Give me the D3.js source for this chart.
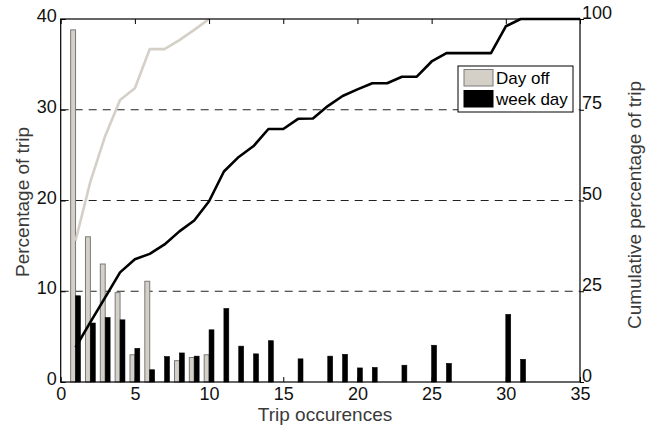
<!DOCTYPE html>
<html>
<head>
<meta charset="utf-8">
<script src="https://cdn.jsdelivr.net/npm/d3@7"></script>
<style>
  html, body { margin: 0; padding: 0; background: #fff; }
  svg { display: block; font-family: "Liberation Sans", Arial, Helvetica, sans-serif; }
</style>
</head>
<body>
<svg id="chart" width="665" height="430"></svg>
<script>
// ---- data ----
const dayOffX = [1, 2, 3, 4, 5, 6, 8, 9, 10];
const dayOffPct = [38.8, 16.0, 13.0, 9.85, 3.0, 11.1, 2.35, 2.7, 3.0];
const weekDayX = [1, 2, 3, 4, 5, 6, 7, 8, 9, 10, 11, 12, 13, 14, 16, 18, 19, 20, 21, 23, 25, 26, 30, 31];
const weekDayPct = [9.5, 6.5, 7.1, 6.85, 3.7, 1.35, 2.8, 3.2, 2.85, 5.75, 8.1, 3.95, 3.1, 4.55, 2.55, 2.85, 3.05, 1.55, 1.6, 1.85, 4.05, 2.05, 7.45, 2.5];
const dayOffCumX = [1, 2, 3, 4, 5, 6, 7, 8, 9, 10];
const dayOffCum = [38.9, 55.2, 67.8, 77.7, 80.9, 91.7, 91.7, 94.2, 97.0, 100];
const weekDayCumX = [1, 2, 3, 4, 5, 6, 7, 8, 9, 10, 11, 12, 13, 14, 15, 16, 17, 18, 19, 20, 21, 22, 23, 24, 25, 26, 27, 28, 29, 30, 31, 32, 33, 34, 35];
const weekDayCum = [9.5, 16.5, 23.3, 30.2, 33.8, 35.3, 37.9, 41.5, 44.5, 49.8, 58.0, 62.0, 65.0, 69.7, 69.7, 72.5, 72.6, 76.0, 78.8, 80.6, 82.3, 82.3, 84.1, 84.1, 88.3, 90.6, 90.6, 90.6, 90.6, 98.0, 100, 100, 100, 100, 100];
const xTicks = [0, 5, 10, 15, 20, 25, 30, 35];
const yLeftTicks = [0, 10, 20, 30, 40];
const yRightTicks = [0, 25, 50, 75, 100];
const seriesNames = ["Day off", "week day"];

// ---- layout ----
const L = 60.7, R = 580, T = 19, B = 382;
const barW = 0.33;
const grayFill = "#d4d0c8", grayStroke = "#7a7a7a";

const svg = d3.select("#chart");
const x = d3.scaleLinear().domain([0, 35]).range([L, R]);
const yL = d3.scaleLinear().domain([0, 40]).range([B, T]);
const yR = d3.scaleLinear().domain([0, 100]).range([B, T]);

// grid (dashed)
svg.append("g").selectAll("line").data(yLeftTicks.filter(d => d > 0 && d < 40)).join("line")
  .attr("x1", L).attr("x2", R)
  .attr("y1", d => yL(d)).attr("y2", d => yL(d))
  .attr("stroke", "#222").attr("stroke-width", 1).attr("stroke-dasharray", "8,6");

// bars
const bars = svg.append("g");
bars.selectAll("rect.off").data(dayOffX.map((v, i) => ({x: v, y: dayOffPct[i]}))).join("rect")
  .attr("class", "off")
  .attr("x", d => x(d.x - barW)).attr("width", d => x(d.x) - x(d.x - barW))
  .attr("y", d => yL(d.y)).attr("height", d => yL(0) - yL(d.y))
  .attr("fill", grayFill).attr("stroke", grayStroke).attr("stroke-width", 1);
bars.selectAll("rect.wk").data(weekDayX.map((v, i) => ({x: v, y: weekDayPct[i]}))).join("rect")
  .attr("class", "wk")
  .attr("x", d => x(d.x)).attr("width", d => x(d.x + barW) - x(d.x))
  .attr("y", d => yL(d.y)).attr("height", d => yL(0) - yL(d.y))
  .attr("fill", "#000").attr("stroke", "#000").attr("stroke-width", 0.6);

// cumulative lines
const lineR = d3.line().x(d => x(d[0])).y(d => yR(d[1]));
svg.append("path").datum(dayOffCumX.map((v, i) => [v, dayOffCum[i]]))
  .attr("d", lineR).attr("fill", "none").attr("stroke", grayFill).attr("stroke-width", 2.6)
  .attr("stroke-linejoin", "round");
svg.append("path").datum(weekDayCumX.map((v, i) => [v, weekDayCum[i]]))
  .attr("d", lineR).attr("fill", "none").attr("stroke", "#000").attr("stroke-width", 2.6)
  .attr("stroke-linejoin", "round");

// axes
const fs = 18;
function styleAxis(g) {
  g.select(".domain").remove();
  g.selectAll(".tick line").attr("stroke", "#000");
  g.selectAll(".tick text").attr("fill", "#111").style("font-size", fs + "px")
    .style("font-family", "'Liberation Sans', Arial, sans-serif");
}
svg.append("g").attr("transform", `translate(0,${B})`)
  .call(d3.axisBottom(x).tickValues(xTicks).tickSize(-5).tickPadding(5).tickFormat(d3.format("d")))
  .call(styleAxis);
svg.append("g").attr("transform", `translate(0,${T})`)
  .call(d3.axisTop(x).tickValues(xTicks).tickSize(-5).tickFormat(""))
  .call(styleAxis);
svg.append("g").attr("transform", `translate(${L},0)`)
  .call(d3.axisLeft(yL).tickValues(yLeftTicks).tickSize(-5).tickPadding(4).tickFormat(d3.format("d")))
  .call(styleAxis)
  .selectAll(".tick text").attr("dy", "0.15em");
svg.append("g").attr("transform", `translate(${R},0)`)
  .call(d3.axisRight(yR).tickValues(yRightTicks).tickSize(4).tickPadding(-2).tickFormat(d3.format("d")))
  .call(styleAxis)
  .selectAll(".tick text").attr("dy", "-0.05em");

// frame
svg.append("rect").attr("x", L).attr("y", T).attr("width", R - L).attr("height", B - T)
  .attr("fill", "none").attr("stroke", "#000").attr("stroke-width", 1.2);

// axis titles
const tfs = "19px";
svg.append("text").attr("x", 325).attr("y", 421).attr("text-anchor", "middle")
  .attr("fill", "#3a3a3a").style("font-size", tfs).text("Trip occurences");
svg.append("text").attr("transform", "translate(29,202) rotate(-90)").attr("text-anchor", "middle")
  .attr("fill", "#3a3a3a").style("font-size", tfs).text("Percentage of trip");
svg.append("text").attr("transform", "translate(641,205) rotate(-90)").attr("text-anchor", "middle")
  .attr("fill", "#3a3a3a").style("font-size", tfs).text("Cumulative percentage of trip");

// legend
const lg = svg.append("g");
lg.append("rect").attr("x", 458).attr("y", 66).attr("width", 115).attr("height", 46)
  .attr("fill", "#fff").attr("stroke", "#000").attr("stroke-width", 1);
const legColors = [[grayFill, grayStroke], ["#000", "#000"]];
seriesNames.forEach((n, i) => {
  lg.append("rect").attr("x", 464).attr("y", 69.5 + i * 21).attr("width", 29).attr("height", 16.5)
    .attr("fill", legColors[i][0]).attr("stroke", legColors[i][1]).attr("stroke-width", 1);
  lg.append("text").attr("x", 496).attr("y", 83.5 + i * 21).attr("fill", "#000")
    .style("font-size", "17px").text(n);
});
</script>
</body>
</html>
